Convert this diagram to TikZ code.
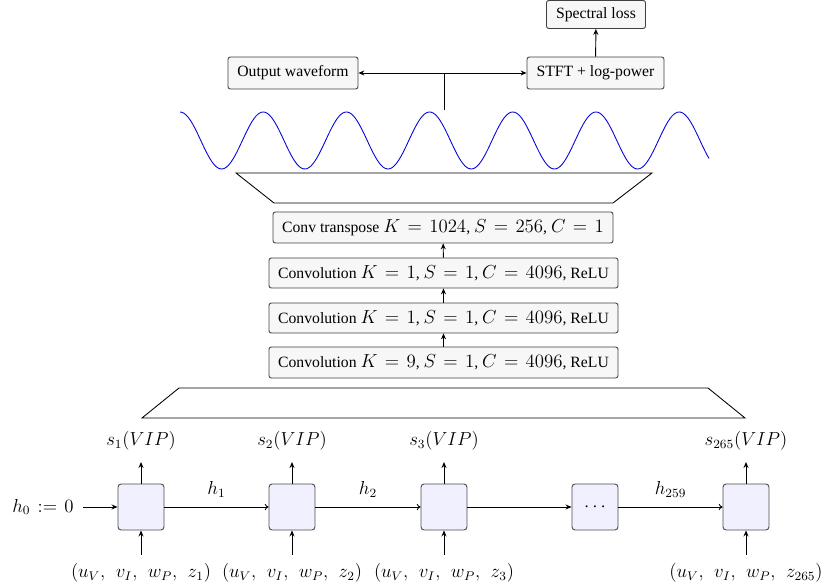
\documentclass[tikz,border=0pt]{standalone}
\usepackage[no-math]{fontspec}
\setmainfont{Liberation Serif}
\DeclareMathSizes{10}{12}{8}{6}
\AtBeginDocument{\thickmuskip=7mu plus 3mu minus 1mu}
\usetikzlibrary{arrows.meta}
\begin{document}
\begin{tikzpicture}[x=0.637pt,y=-0.637pt,
  gbox/.style={draw=black!75, fill=black!3, rounded corners=1.5pt, inner sep=0pt, line width=0.55pt, font=\fontsize{10}{12}\selectfont},
  cell/.style={draw=black!70, fill=blue!6, rounded corners=2pt, minimum width=29.3pt, minimum height=29.3pt, inner sep=0pt, line width=0.6pt},
  lbl/.style={inner sep=0pt, font=\fontsize{10}{12}\selectfont},
  sarr/.style={-{Stealth[length=3.8pt,width=3.2pt]}, line width=0.6pt},
  tarr/.style={-{To[length=2.4pt,width=4pt]}, line width=0.55pt},
  wave/.style={blue!85!black, line width=0.55pt},
  trap/.style={draw=black, line width=0.55pt}
]
\useasboundingbox (0,0) rectangle (825,588);

% top boxes
\node[gbox, minimum width=99*0.637pt, minimum height=28*0.637pt] (spec) at (596,14.5) {Spectral loss};
\node[gbox, minimum width=137*0.637pt, minimum height=32*0.637pt] (stft) at (595.5,73) {STFT + log-power};
\node[gbox, minimum width=130*0.637pt, minimum height=32*0.637pt] (outw) at (293,73) {Output waveform};
\coordinate (j) at (444,73);
\coordinate (wtop) at (444,110);
\draw[line width=0.6pt] (wtop) -- (j);
\draw[sarr] (j) -- (outw);
\draw[sarr] (j) -- (stft);
\draw[sarr] (stft) -- (spec);

% waveform
\draw[wave, domain=180:709, samples=300, smooth] plot (\x, {140.5 - 28.5*cos(4.3269*(\x-180))});

% upper trapezoid
\draw[trap] (236,173) -- (652,173) -- (613,203) -- (274,203) -- cycle;

% conv stack
\node[gbox, minimum width=340*0.637pt, minimum height=31*0.637pt] (ct) at (443,227.5) {Conv transpose $K = 1024$, $S = 256$, $C = 1$};
\node[gbox, minimum width=349*0.637pt, minimum height=30*0.637pt] (c3) at (443.5,273) {Convolution $K = 1$, $S = 1$, $C = 4096$, ReLU};
\node[gbox, minimum width=349*0.637pt, minimum height=30*0.637pt] (c2) at (443.5,318) {Convolution $K = 1$, $S = 1$, $C = 4096$, ReLU};
\node[gbox, minimum width=349*0.637pt, minimum height=31*0.637pt] (c1) at (443.5,362.5) {Convolution $K = 9$, $S = 1$, $C = 4096$, ReLU};
\draw[sarr] (c1) -- (c2);
\draw[sarr] (c2) -- (c3);
\draw[sarr] (c3) -- (ct);

% lower trapezoid
\draw[trap] (179,388) -- (708,388) -- (745,418) -- (142,418) -- cycle;

% recurrent cells
\node[cell] (b1) at (141,507) {};
\node[cell] (b2) at (292,507) {};
\node[cell] (b3) at (444,507) {};
\node[cell] (b4) at (595,507) {$\cdots$};
\node[cell] (b5) at (746,507) {};

\node[lbl] (h0) at (43,507) {$h_0 := 0$};
\draw[sarr, shorten <=6pt] (h0) -- (b1);
\draw[tarr] (b1) -- node[lbl, above=6pt] {$h_1$} (b2);
\draw[tarr] (b2) -- node[lbl, above=6pt] {$h_2$} (b3);
\draw[sarr] (b3) -- (b4);
\draw[tarr] (b4) -- node[lbl, above=6pt] {$h_{259}$} (b5);

\foreach \i/\x/\s in {1/141/1, 2/292/2, 3/444/3, 5/746/265} {
  \node[lbl] (s\i) at (\x,441) {$s_{\s}(VIP)$};
  \coordinate (so\i) at (\x,462);
  \coordinate (in\i) at (\x,555);
  \node[lbl] (x\i) at (\x,573) {$(u_V,\; v_I,\; w_P,\; z_{\s})$};
  \draw[sarr] (b\i) -- (so\i);
  \draw[sarr] (in\i) -- (b\i);
}
\end{tikzpicture}
\end{document}
